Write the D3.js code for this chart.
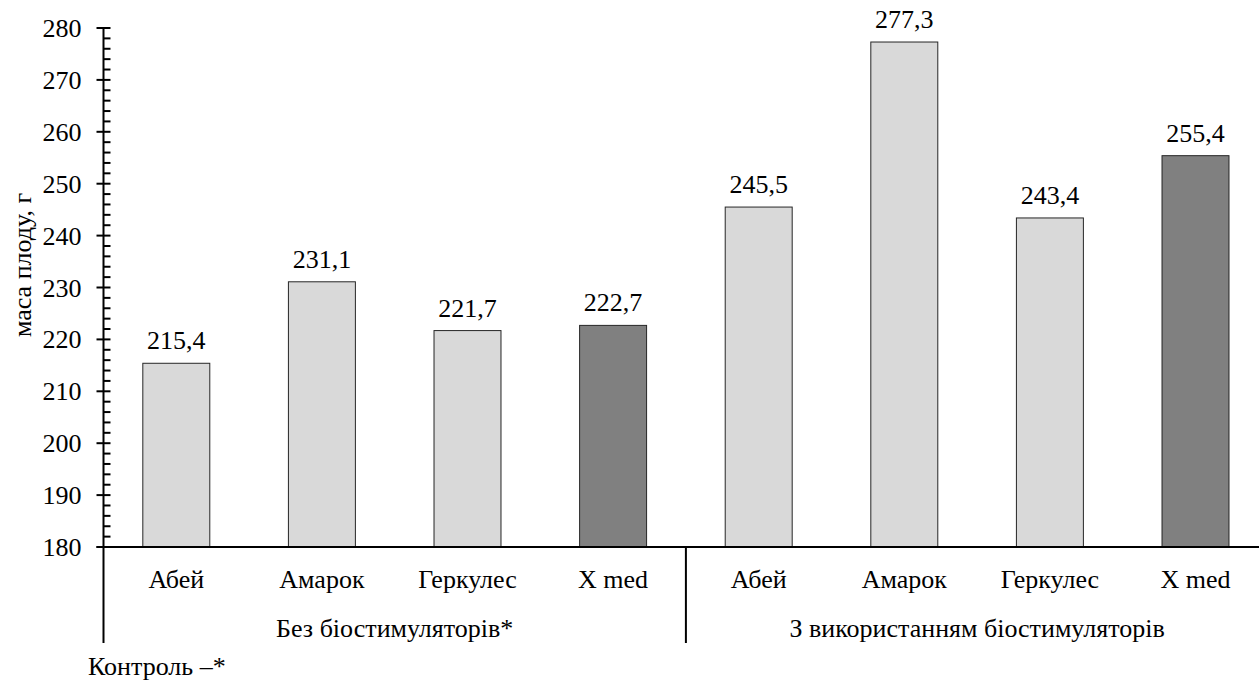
<!DOCTYPE html>
<html><head><meta charset="utf-8">
<script src="https://cdn.jsdelivr.net/npm/d3@7"></script>
</head>
<body style="margin:0;padding:0;background:#fff">
<svg id="chart" width="1259" height="680"></svg>
<script>
const varieties = ["Абей", "Амарок", "Геркулес", "X med"];
const groups = ["Без біостимуляторів*", "З використанням біостимуляторів"];
const valuesWithout = [215.4, 231.1, 221.7, 222.7];
const valuesWith = [245.5, 277.3, 243.4, 255.4];
const yTicks = [180, 190, 200, 210, 220, 230, 240, 250, 260, 270, 280];
const yTitle = "маса плоду, г";
const footnote = "Контроль –*";

const svg = d3.select("#chart");
const x0 = 103.5, step = 145.6;
const K = 26 / 30;
const rows = [];
[valuesWithout, valuesWith].forEach((vals, gi) => {
  vals.forEach((v, i) => rows.push({key: gi + "-" + i, group: gi, name: varieties[i], value: v, dark: varieties[i] === "X med"}));
});

const x = d3.scaleBand().domain(rows.map(d => d.key)).range([x0, x0 + step * rows.length]).padding(0);
const y = d3.scaleLinear().domain([180, 280]).range([547, 28]);
const bw = x.bandwidth() * 0.46;

// text helper: font-size 30 scaled to 26 effective
function txt(sel, fx, fy, extra) {
  return sel.attr("font-size", 30)
    .attr("font-family", "'Liberation Serif'")
    .attr("transform", (d, i) => `translate(${fx(d, i)},${fy(d, i)})${extra || ""} scale(${K})`);
}

// bars
svg.append("g").selectAll("rect").data(rows).join("rect")
  .attr("x", d => x(d.key) + (x.bandwidth() - bw) / 2)
  .attr("y", d => y(d.value))
  .attr("width", bw)
  .attr("height", d => y(180) - y(d.value))
  .attr("fill", d => d.dark ? "#808080" : "#d9d9d9")
  .attr("stroke", "#262626")
  .attr("stroke-width", 1);

// value labels
txt(svg.selectAll("text.val").data(rows).join("text").attr("class", "val"),
    d => x(d.key) + x.bandwidth() / 2, d => y(d.value) - 14)
  .attr("text-anchor", "middle")
  .text(d => d.value.toFixed(1).replace(".", ","));

// y axis
const minor = d3.range(180, 280.01, 2).filter(v => v % 10 !== 0);
svg.selectAll("line.minor").data(minor).join("line").attr("class", "minor")
  .attr("x1", x0).attr("x2", x0 + 7)
  .attr("y1", d => y(d)).attr("y2", d => y(d))
  .attr("stroke", "#000").attr("stroke-width", 2);
svg.selectAll("line.major").data(yTicks).join("line").attr("class", "major")
  .attr("x1", x0 - 7).attr("x2", x0 + 7)
  .attr("y1", d => y(d)).attr("y2", d => y(d))
  .attr("stroke", "#000").attr("stroke-width", 2);
txt(svg.selectAll("text.ytick").data(yTicks).join("text").attr("class", "ytick"),
    () => x0 - 22, d => y(d) + 9)
  .attr("text-anchor", "end")
  .text(d => d);
svg.append("line").attr("x1", x0).attr("x2", x0).attr("y1", y(280)).attr("y2", 643)
  .attr("stroke", "#000").attr("stroke-width", 2);

// x axis
svg.append("line").attr("x1", x0 - 7).attr("x2", x0 + step * rows.length).attr("y1", y(180)).attr("y2", y(180))
  .attr("stroke", "#000").attr("stroke-width", 2);
svg.append("line").attr("x1", x(rows[4].key)).attr("x2", x(rows[4].key)).attr("y1", y(180)).attr("y2", 643)
  .attr("stroke", "#000").attr("stroke-width", 2);

// category labels
txt(svg.selectAll("text.cat").data(rows).join("text").attr("class", "cat"),
    d => x(d.key) + x.bandwidth() / 2, () => 588)
  .attr("text-anchor", "middle")
  .text(d => d.name);

// group labels
txt(svg.selectAll("text.grp").data(groups).join("text").attr("class", "grp"),
    (g, gi) => (x(rows[gi * 4].key) + x(rows[gi * 4 + 3].key) + x.bandwidth()) / 2, () => 637)
  .attr("text-anchor", "middle")
  .text(g => g);

// y title
txt(svg.selectAll("text.ytitle").data([yTitle]).join("text").attr("class", "ytitle"),
    () => 31, () => 265, " rotate(-90)")
  .attr("text-anchor", "middle")
  .text(d => d);

// footnote
txt(svg.selectAll("text.note").data([footnote]).join("text").attr("class", "note"),
    () => 88, () => 675)
  .text(d => d);
</script>
</body></html>
